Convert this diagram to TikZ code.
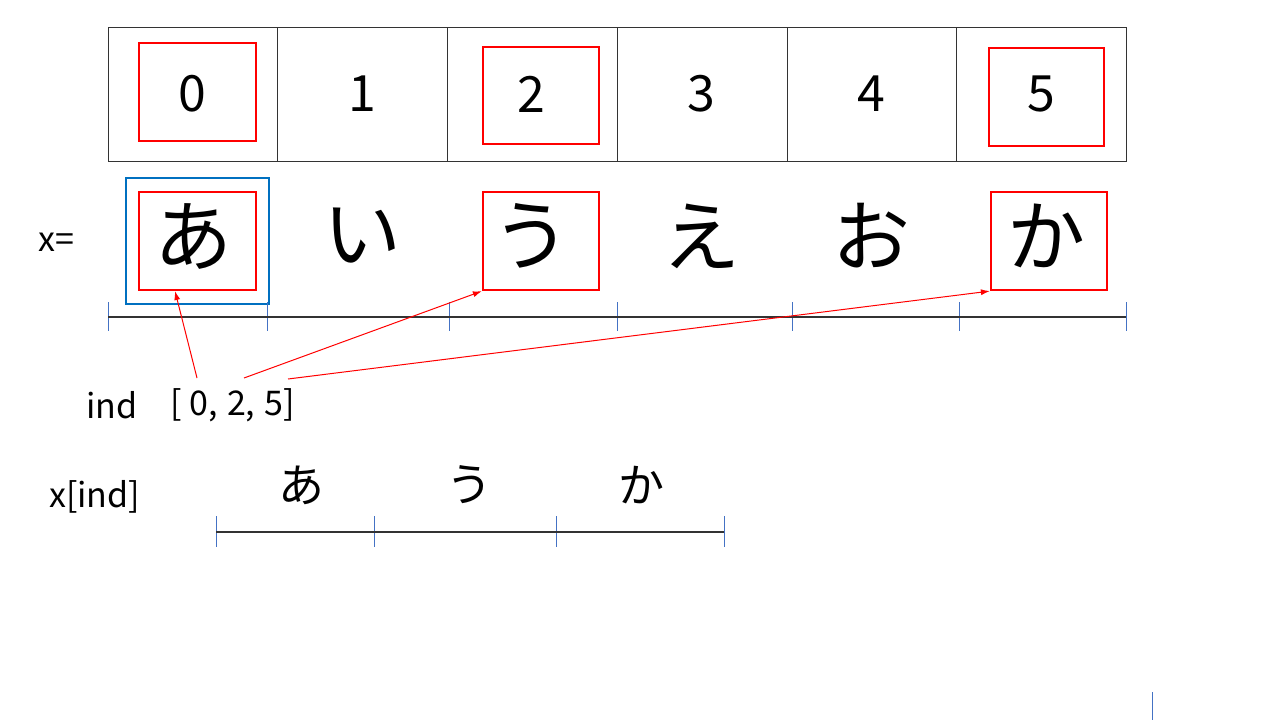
\documentclass[tikz,border=0pt]{standalone}
\usepackage{fontspec}
\setmainfont{Noto Sans CJK JP}
\newfontfamily\jp{Noto Sans CJK JP}
\usetikzlibrary{arrows.meta}
\definecolor{redbox}{RGB}{255,0,0}
\definecolor{bluebox}{RGB}{0,112,192}
\definecolor{tickblue}{RGB}{68,114,196}
\tikzset{
  cell/.style={draw=black!80, line width=0.8pt},
  redsq/.style={draw=redbox, line width=2.2pt, inner sep=0pt},
  bluesq/.style={draw=bluebox, line width=2.4pt},
  digit/.style={font=\fontsize{50}{52}\selectfont, inner sep=0pt},
  kana/.style={font=\jp\fontsize{78}{80}\selectfont, inner sep=0pt},
  smallkana/.style={font=\jp\fontsize{46}{48}\selectfont, inner sep=0pt},
  lbl/.style={font=\fontsize{34}{36}\selectfont, inner sep=0pt, anchor=west},
  axis/.style={draw=black!80, line width=1.2pt},
  tick/.style={draw=tickblue, line width=1pt},
  redarrow/.style={draw=redbox, line width=1pt, -{Latex[length=9pt,width=6pt]}},
}
\begin{document}
\begin{tikzpicture}[x=1pt,y=-1pt]
\useasboundingbox (0,0) rectangle (1280,720);
% table
\draw[cell] (108,27) rectangle (1126,161);
\foreach \xx in {277,447,617,787,956} \draw[cell] (\xx,27) -- (\xx,161);
% red boxes top
\node[redsq, minimum width=117pt, minimum height=98pt] (r0) at (197.5,92) {};
\node[redsq, minimum width=116pt, minimum height=97pt] (r2) at (541,95.5) {};
\node[redsq, minimum width=115pt, minimum height=98pt] (r5) at (1046.5,97) {};
% digits
\node[digit] (d0) at (192,94) {0};
\node[digit] (d1) at (362,94) {1};
\node[digit] (d2) at (531,94) {2};
\node[digit] (d3) at (701,94) {3};
\node[digit] (d4) at (871,94) {4};
\node[digit] (d5) at (1041,94) {5};
% x= row
\node[lbl] (xeq) at (38,242) {x=};
\node[bluesq, minimum width=143pt, minimum height=126pt] (blue) at (197.5,241) {};
\node[redsq, minimum width=117pt, minimum height=98pt] (ra) at (197.5,241) {};
\node[redsq, minimum width=116pt, minimum height=98pt] (ru) at (541,241) {};
\node[redsq, minimum width=116pt, minimum height=98pt] (rka) at (1049,241) {};
\node[kana] (ka0) at (193,236) {あ};
\node[kana] (ka1) at (362,236) {い};
\node[kana] (ka2) at (531,236) {う};
\node[kana] (ka3) at (701,236) {え};
\node[kana] (ka4) at (871,236) {お};
\node[kana] (ka5) at (1046,236) {か};
% axis
\foreach \xx in {108,267,449,617,792,959,1126} \draw[tick] (\xx,302) -- (\xx,331);
\coordinate (a0) at (108,317);
\coordinate (a6) at (1126,317);
\draw[axis] (a0) -- (a6);
% ind
\node[lbl] (ind) at (86,405) {ind};
\node[lbl] (lst) at (170,405) {[\hspace{8pt}0,\hspace{9pt}2,\hspace{9pt}5]};
\coordinate (s0) at (197,378);
\coordinate (s2) at (244,378);
\coordinate (s5) at (288,379);
\draw[redarrow] (s0) -- (175,291);
\draw[redarrow] (s2) -- (ru.south west);
\draw[redarrow] (s5) -- (rka.south west);
% x[ind]
\node[lbl] (xind) at (49,497) {x[ind]};
\node[smallkana] (b0) at (301,485) {あ};
\node[smallkana] (b1) at (469,485) {う};
\node[smallkana] (b2) at (641,485) {か};
\foreach \xx in {216,374,556,724} \draw[tick] (\xx,516) -- (\xx,547);
\draw[axis] (216,532) -- (724,532);
% bottom right mark
\draw[tick] (1152,692) -- (1152,720);
\end{tikzpicture}
\end{document}
